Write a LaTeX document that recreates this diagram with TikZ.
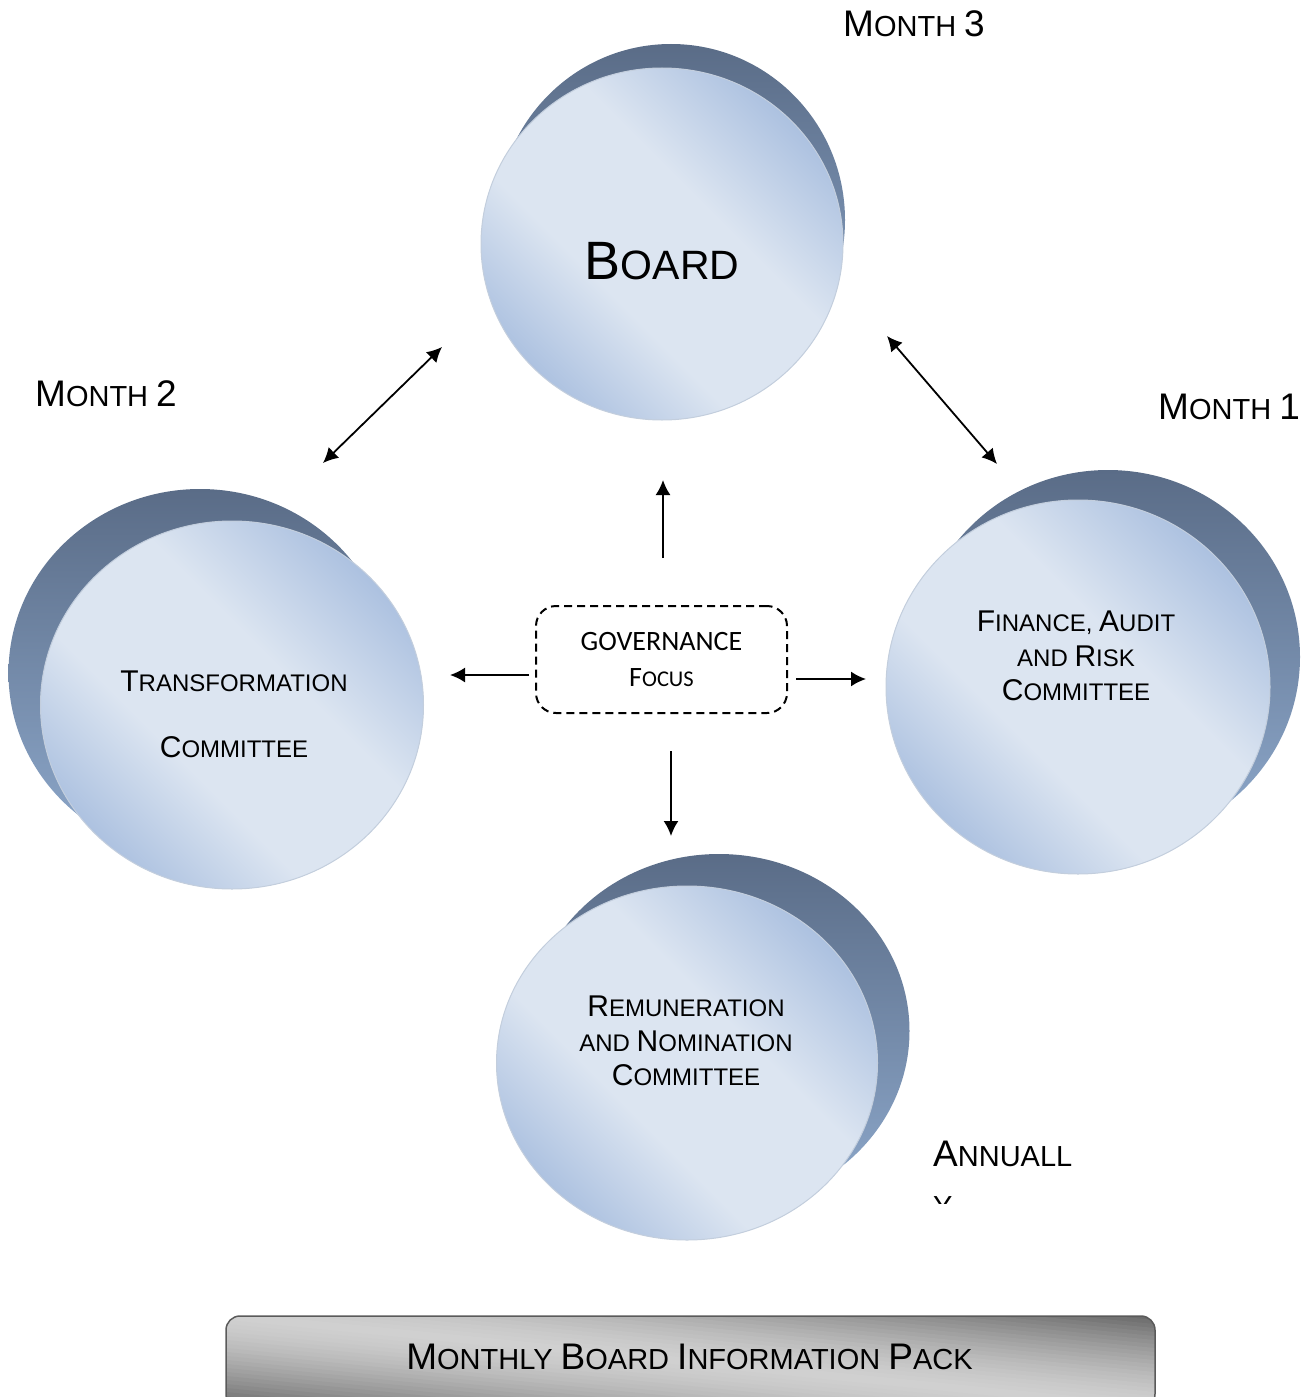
\documentclass[tikz,border=0pt]{standalone}
\usepackage{fontspec}
\setmainfont{Liberation Sans}
\newfontfamily\carlito{Carlito}
\usetikzlibrary{arrows.meta,shapes.geometric}
\definecolor{balldk}{HTML}{A4BBDD}
\definecolor{balllt}{HTML}{DCE5F1}
\definecolor{backdk}{HTML}{5A6C87}
\definecolor{backlt}{HTML}{8EA9CC}
\definecolor{ballrim}{HTML}{C3CEDD}
\definecolor{bardk}{HTML}{686868}
\definecolor{barlt}{HTML}{D0D0D0}
\definecolor{barline}{HTML}{5A5A5A}
\pgfdeclarehorizontalshading{ballshade}{100bp}{color(0bp)=(balldk); color(22bp)=(balldk); color(40bp)=(balllt); color(58bp)=(balllt); color(78bp)=(balldk); color(100bp)=(balldk)}
\newcommand\sA[1]{{\fontsize{29}{50}\selectfont #1}}
\newcommand\sB[1]{{\fontsize{24}{34.5}\selectfont #1}}
\newcommand\sC[1]{{\fontsize{41}{60}\selectfont #1}}
\newcommand\sD[1]{{\fontsize{22.5}{36}\selectfont #1}}
\tikzset{
  frontball/.style={ellipse, inner sep=0pt, shading=ballshade, shading angle=45, draw=ballrim, line width=1pt},
  backball/.style={ellipse, inner sep=0pt, top color=backdk, bottom color=backlt, draw=none},
  bigtxt/.style={font=\fontsize{37}{50}\selectfont, inner sep=0pt},
  ctxt/.style={font=\fontsize{30}{34.5}\selectfont, inner sep=0pt, align=center},
  arr/.style={line width=1.8pt, -{Latex[length=15pt,width=15pt]}},
  darr/.style={line width=1.8pt, {Latex[length=15pt,width=15pt]}-{Latex[length=15pt,width=15pt]}}
}
\begin{document}
\begin{tikzpicture}[x=1pt,y=-1pt]
\useasboundingbox (0,0) rectangle (1306,1397);
% back balls
\node[backball, minimum width=348pt, minimum height=352pt] (boardback) at (671,220) {};
\node[backball, minimum width=383pt, minimum height=368pt] (transback) at (200,673) {};
\node[backball, minimum width=384pt, minimum height=374pt] (finback) at (1108,657) {};
\node[backball, minimum width=381pt, minimum height=354pt] (remback) at (719,1031) {};
% front balls
\node[frontball, minimum width=362pt, minimum height=352pt] (board) at (662,244) {};
\node[frontball, minimum width=383pt, minimum height=368pt] (trans) at (232,705) {};
\node[frontball, minimum width=384pt, minimum height=374pt] (fin) at (1078,687) {};
\node[frontball, minimum width=381pt, minimum height=354pt] (rem) at (687,1063) {};
% ball texts
\node[inner sep=0pt, anchor=base, font=\fontsize{54}{60}\selectfont] (boardtxt) at (662,279) {B\sC{OARD}};
\node[ctxt] (transtxt) at (234,714.6) {T\sB{RANSFORMATION}\\[31.5pt]C\sB{OMMITTEE}};
\node[ctxt] (fintxt) at (1076,656.2) {F\sB{INANCE}\sB{, }A\sB{UDIT}\\\sB{AND }R\sB{ISK}\\C\sB{OMMITTEE}};
\node[ctxt] (remtxt) at (686,1041.2) {R\sB{EMUNERATION}\\\sB{AND }N\sB{OMINATION}\\C\sB{OMMITTEE}};
% month labels
\node[bigtxt, anchor=base west] (m3) at (843,37) {M\sA{ONTH }3};
\node[bigtxt, anchor=base west] (m2) at (35,406) {M\sA{ONTH }2};
\node[bigtxt, anchor=base west] (m1) at (1158,419) {M\sA{ONTH }1};
\begin{scope}
\clip (900,1100) rectangle (1120,1203);
\node[bigtxt, anchor=north west, align=left] (ann) at (933,1140.5) {A\sA{NNUALL}\\\sA{Y}};
\end{scope}
% governance box
\node[draw, dash pattern=on 8pt off 5pt, line width=2pt, rounded corners=20pt,
      minimum width=251pt, minimum height=107pt, align=center, inner sep=0pt,
      font=\carlito\fontsize{28}{36}\selectfont] (gov) at (661.5,659.5) {GOVERNANCE\\F\sD{OCUS}};
% arrow end points
\coordinate (upS) at (663,558);
\coordinate (upE) at (663,480);
\coordinate (lfS) at (529,675);
\coordinate (lfE) at (450,675);
\coordinate (rtS) at (796,679);
\coordinate (rtE) at (866,679);
\coordinate (dnS) at (671,751);
\coordinate (dnE) at (671,836);
\coordinate (d1a) at (442,347);
\coordinate (d1b) at (323,463);
\coordinate (d2a) at (887,336);
\coordinate (d2b) at (997,464);
\draw[arr] (upS) -- (upE);
\draw[arr] (lfS) -- (lfE);
\draw[arr] (rtS) -- (rtE);
\draw[arr] (dnS) -- (dnE);
\draw[darr] (d1a) -- (d1b);
\draw[darr] (d2a) -- (d2b);
% bottom bar: diagonal glossy fill built from thin bands
\begin{scope}
\clip[rounded corners=14pt] (226,1316) rectangle (1155,1408);
\foreach \t in {-100,-96,...,100}{
  \pgfmathsetmacro\p{100-100*(min(1,abs(\t+2)/92))^1.5}
  \fill[barlt!\p!bardk] (200,{1313.4+\t}) -- (1180,{1410.5+\t}) -- (1180,{1415.2+\t}) -- (200,{1318.1+\t}) -- cycle;
}
\end{scope}
\node[rounded corners=14pt, draw=barline, line width=1.5pt,
      minimum width=929pt, minimum height=92pt, inner sep=0pt] (bar) at (690.5,1362) {};
\node[bigtxt, anchor=base] (bartxt) at (689.5,1369) {M\sA{ONTHLY }B\sA{OARD }I\sA{NFORMATION }P\sA{ACK}};
\end{tikzpicture}
\end{document}
